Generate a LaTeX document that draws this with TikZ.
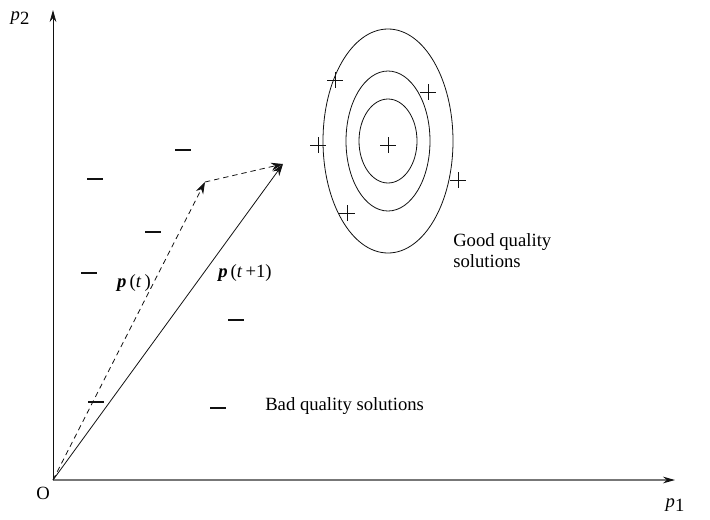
\documentclass[tikz,border=0pt]{standalone}
\usepackage{fontspec}
\setmainfont{Liberation Serif}
\usetikzlibrary{arrows.meta,positioning,calc}
\def\wLight{0.6pt}
\def\wRegular{0.9pt}
\definecolor{cInk}{HTML}{111111}
\definecolor{cAxis}{HTML}{777777}
\tikzset{
  axis/.style={draw=cInk, line width=\wLight, -{Stealth[length=9pt, width=5pt, color=cInk]}},
  ring/.style={draw=cInk, line width=\wLight},
  sgn/.style={draw=cInk, line width=\wLight},
  vec/.style={draw=cInk, line width=\wLight, -{Stealth[length=9pt, width=6pt]}},
  vec-d/.style={vec, dash pattern=on 4pt off 3pt},
  lbl/.style={font=\fontsize{14pt}{16pt}\selectfont, inner sep=0pt},
  vlbl/.style={font=\fontsize{14pt}{16pt}\selectfont, inner sep=0pt},
}
\newcommand{\lowsub}[1]{\raisebox{-0.55ex}{#1}}

\begin{document}
\begin{tikzpicture}[x=0.75pt, y=-0.75pt]
\useasboundingbox (0,0) rectangle (710,519);
% axes
\coordinate (O)    at (53,480);
\coordinate (xend) at (675,480);
\coordinate (yend) at (53,10);
\draw[axis, draw=cAxis, line width=\wRegular] (O) -- (xend);
\draw[axis] (O) -- (yend);
% contours round the best point
\coordinate (best) at (388,141);
\foreach \rx/\ry in {65/112, 42/70, 29/42}
  \draw[ring] (best) ellipse [x radius=\rx, y radius=\ry];
% good (+) and bad (-) samples
\foreach \px/\py in {388/145, 335/80, 428/92, 318/145, 458/180, 347/213}
  \draw[sgn] (\px-8,\py) -- ++(16,0) (\px,\py-8) -- ++(0,16);
\foreach \mx/\my in {95/179, 183/150, 153/232, 89/273, 236/320, 96/402, 218/408}
  \draw[sgn, line width=\wRegular] (\mx-8,\my) -- ++(16,0);
% update of the probability vector
\coordinate (pt) at (205,182);
\coordinate (pn) at (283,164);
\draw[vec-d] (O)  -- (pt);
\draw[vec-d] (pt) -- (pn);
\draw[vec]   (O)  -- (pn);
% labels
\node[lbl] (lp2) at (20,18)  {\textit{p}\lowsub{2}};
\node[lbl] (lp1) at (675,505) {\textit{p}\lowsub{1}};
\node[lbl] (lo)  at (43,493) {O};
\node[vlbl] (lpt) at (134,283) {\textbf{\textit{p}}\,(\textit{t}\,)};
\node[vlbl] (lpn) at (245,273) {\textbf{\textit{p}}\,(\textit{t}\,+1)};
\node[lbl, anchor=north west, align=left] (good) at (453,233) {Good quality\\solutions};
\node[lbl, anchor=base west] (bad) at (265,410) {Bad quality solutions};
\end{tikzpicture}
\end{document}
